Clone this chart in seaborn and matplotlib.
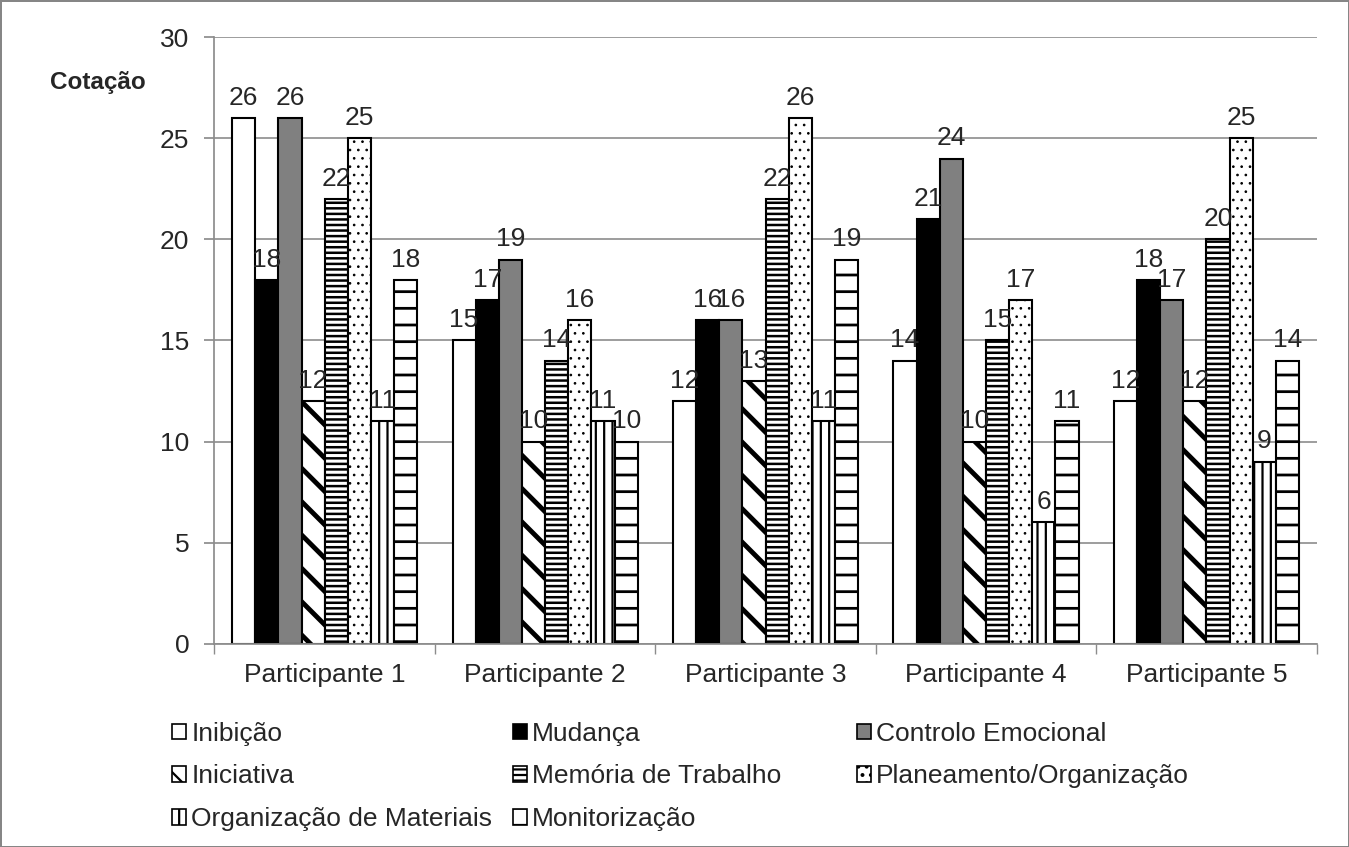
import matplotlib
matplotlib.use("Agg")
import matplotlib.pyplot as plt
from matplotlib.patches import Rectangle
import seaborn as sns
import pandas as pd

participants = ["Participante 1", "Participante 2", "Participante 3", "Participante 4", "Participante 5"]
domains = ["Inibição", "Mudança", "Controlo Emocional", "Iniciativa", "Memória de Trabalho",
           "Planeamento/Organização", "Organização de Materiais", "Monitorização"]
inibicao = [26, 15, 12, 14, 12]
mudanca = [18, 17, 16, 21, 18]
controlo = [26, 19, 16, 24, 17]
iniciativa = [12, 10, 13, 10, 12]
memoria = [22, 14, 22, 15, 20]
planeamento = [25, 16, 26, 17, 25]
org_materiais = [11, 11, 11, 6, 9]
monitorizacao = [18, 10, 19, 11, 14]
series = [inibicao, mudanca, controlo, iniciativa, memoria, planeamento, org_materiais, monitorizacao]

rows = []
for d, vals in zip(domains, series):
    for p, v in zip(participants, vals):
        rows.append({"Participante": p, "Domínio": d, "Cotação": v})
df = pd.DataFrame(rows)

sns.set_theme(style="white")
plt.rcParams['font.family'] = ['Liberation Sans', 'DejaVu Sans']
plt.rcParams['hatch.linewidth'] = 1.6

faces = ["white", "black", "#808080", "white", "white", "white", "white", "white"]
hatches = [None, None, None, "\\", "---", "..", "||", "-"]
hatch_lw = [1.6, 1.6, 1.6, 3.5, 1.8, 0.7, 1.6, 2.0]
FS = 19


def set_hlw(p, lw):
    if hasattr(p, "set_hatch_linewidth"):
        p.set_hatch_linewidth(lw)
    else:
        p._hatch_linewidth = lw


fig = plt.figure(figsize=(13.49, 8.47), dpi=100, edgecolor="#868686", linewidth=2)
ax = fig.add_axes([0.159, 0.240, 0.817, 0.716])

sns.barplot(data=df, x="Participante", y="Cotação", hue="Domínio", order=participants,
            hue_order=domains, width=0.84, gap=0, dodge=True, ax=ax, legend=False,
            palette=["white"] * 8, edgecolor="black", linewidth=1.5, saturation=1)

for i, cont in enumerate(ax.containers):
    for bar in cont:
        bar.set_facecolor(faces[i])
        bar.set_edgecolor("black")
        if hatches[i]:
            bar.set_hatch(hatches[i])
            set_hlw(bar, hatch_lw[i])
    ax.bar_label(cont, fmt="%d", padding=6, fontsize=FS)

ax.set_ylim(0, 30)
ax.set_xlim(-0.5, 4.5)
ax.set_yticks(range(0, 31, 5))
ax.yaxis.grid(True, color="#8c8c8c", linewidth=1.2)
ax.set_axisbelow(True)
for s in ["top", "right"]:
    ax.spines[s].set_visible(False)
ax.spines["left"].set_color("#8c8c8c")
ax.spines["bottom"].set_color("#8c8c8c")
ax.tick_params(axis="y", which="major", left=True, length=7, color="#8c8c8c", labelsize=FS, pad=11)
ax.tick_params(axis="x", which="major", bottom=False, labelsize=FS, pad=8)
ax.set_xticks([i - 0.5 for i in range(6)], minor=True)
ax.tick_params(axis="x", which="minor", bottom=True, length=7, color="#8c8c8c")
ax.set_xlabel("")
ax.set_ylabel("")
fig.text(0.037, 0.895, "Cotação", fontsize=17.5, fontweight="bold")

handles = []
for i in range(8):
    h = Rectangle((0, 0), 1, 1, facecolor=faces[i], edgecolor="black", hatch=hatches[i], linewidth=1.2)
    handles.append(h)
cols = [[0, 3, 6], [1, 4, 7], [2, 5]]
xs = [0.1275, 0.380, 0.635]
for xpos, idx in zip(xs, cols):
    fig.legend([handles[i] for i in idx], [domains[i] for i in idx], loc="upper left",
               bbox_to_anchor=(xpos, 0.148), frameon=False, fontsize=FS,
               handlelength=0.53, handleheight=0.53, handletextpad=0.2, labelspacing=0.71,
               borderaxespad=0, borderpad=0)

fig.savefig("out.png", dpi=100)
